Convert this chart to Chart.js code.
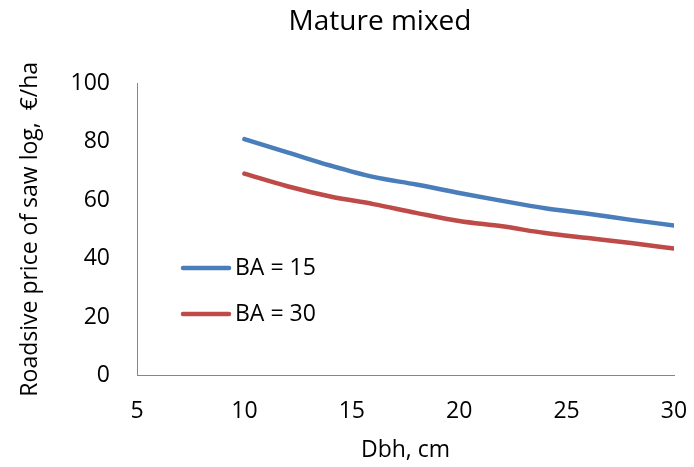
<!DOCTYPE html>
<html>
<head>
<meta charset="utf-8">
<script src="https://cdn.jsdelivr.net/npm/chart.js@4.4.1/dist/chart.umd.min.js"></script>
<style>
  html, body { margin: 0; padding: 0; background: #fff; }
  #box { width: 694px; height: 467px; }
</style>
</head>
<body>
<div id="box"><canvas id="chart" width="694" height="467"></canvas></div>
<script>
// 資料
const dbh = [10, 12, 14, 16, 18, 20, 22, 24, 26, 28, 30];
const ba15 = [80.8, 76.3, 71.8, 67.9, 65.3, 62.4, 59.7, 57.2, 55.3, 53.2, 51.3];
const ba30 = [69.0, 64.7, 61.2, 58.6, 55.6, 52.8, 51.0, 48.7, 47.0, 45.3, 43.4];
const seriesNames = ["BA = 15", "BA = 30"];
const chartTitle = "Mature mixed";
const xTitle = "Dbh, cm";
const yTitle = "Roadsive price of saw log,  €/ha";

const FONT = "'Open Sans', sans-serif";
const toPoints = (ys) => dbh.map((x, i) => ({ x: x, y: ys[i] }));

// 標題 + 圖例 (畫在圖內)
const excelLook = {
  id: "excelLook",
  afterDraw(chart) {
    const ctx = chart.ctx;
    ctx.save();
    ctx.fillStyle = "#000";
    ctx.font = "28px " + FONT;
    ctx.textAlign = "center";
    ctx.textBaseline = "middle";
    ctx.fillText(chartTitle, 380, 22);

    ctx.font = "23px " + FONT;
    ctx.textAlign = "left";
    chart.data.datasets.forEach((ds, i) => {
      const y = 268 + i * 46;
      ctx.strokeStyle = ds.borderColor;
      ctx.lineWidth = 4.5;
      ctx.lineCap = "round";
      ctx.beginPath();
      ctx.moveTo(183, y);
      ctx.lineTo(229, y);
      ctx.stroke();
      ctx.fillText(ds.label, 235, y);
    });
    ctx.restore();
  },
};

new Chart(document.getElementById("chart"), {
  type: "line",
  data: {
    datasets: [
      {
        label: seriesNames[0],
        data: toPoints(ba15),
        borderColor: "#4A7EBB",
        backgroundColor: "#4A7EBB",
      },
      {
        label: seriesNames[1],
        data: toPoints(ba30),
        borderColor: "#BE4B48",
        backgroundColor: "#BE4B48",
      },
    ],
  },
  options: {
    responsive: false,
    animation: false,
    layout: { padding: { top: 83, right: 20, bottom: 0, left: 0 } },
    elements: {
      point: { radius: 0 },
      line: { borderWidth: 4.5, cubicInterpolationMode: "monotone", borderCapStyle: "round" },
    },
    plugins: {
      legend: { display: false },
      title: { display: false },
      tooltip: { enabled: false },
    },
    scales: {
      x: {
        type: "linear",
        min: 5,
        max: 30,
        ticks: { stepSize: 5, padding: 22, color: "#000", font: { family: FONT, size: 23 } },
        grid: { display: false, drawTicks: false },
        border: { display: true, color: "#868686", width: 1 },
        title: {
          display: true,
          text: xTitle,
          color: "#000",
          font: { family: FONT, size: 23 },
          padding: { top: 0, bottom: 3 },
        },
        afterFit: (scale) => {
          scale.height = 91.5;
          scale.paddingLeft = 0;
          scale.paddingRight = 0;
        },
      },
      y: {
        min: 0,
        max: 100,
        ticks: { stepSize: 20, padding: 27, color: "#000", font: { family: FONT, size: 23 } },
        grid: { display: false, drawTicks: false },
        border: { display: true, color: "#868686", width: 1 },
        title: {
          display: true,
          text: yTitle,
          color: "#000",
          font: { family: FONT, size: 23 },
          padding: { top: 17, bottom: 0 },
        },
        afterFit: (scale) => {
          scale.width = 137;
          scale.paddingTop = 0;
          scale.paddingBottom = 0;
        },
      },
    },
  },
  plugins: [excelLook],
});
</script>
</body>
</html>
